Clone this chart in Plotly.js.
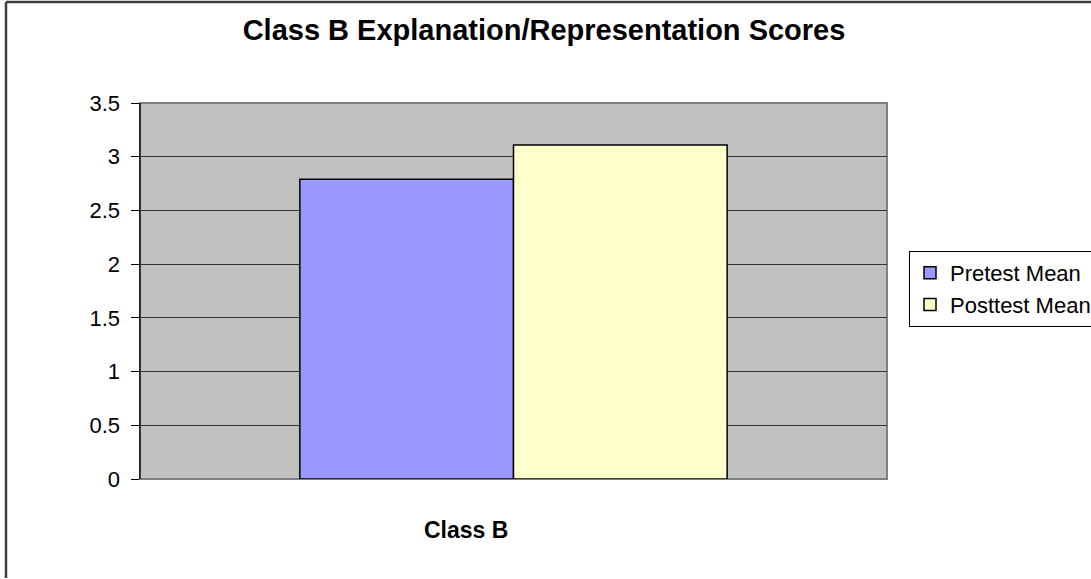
<!DOCTYPE html>
<html>
<head>
<meta charset="utf-8">
<script src="https://cdn.plot.ly/plotly-3.0.1.min.js"></script>
<style>html,body{margin:0;padding:0;background:#fff;overflow:hidden;}#chart{width:1091px;height:579px;overflow:hidden;}</style>
</head>
<body>
<div id="chart"></div>
<script>
var categories = ["Class B"];
var seriesNames = ["Pretest Mean", "Posttest Mean"];
var pretest = [2.79];
var posttest = [3.11];
var yTicks = [0, 0.5, 1, 1.5, 2, 2.5, 3, 3.5];
var yTickLabels = ["0", "0.5", "1", "1.5", "2", "2.5", "3", "3.5"];
var titleText = "Class B Explanation/Representation Scores";

var font = "Arial, 'Liberation Sans', Helvetica, sans-serif";
var W = 1091, H = 579, L = 140, R = 204, T = 103, B = 100;
var pw = W - L - R, ph = H - T - B;
function px(x) { return (x - L) / pw; }
function py(y) { return (H - B - y) / ph; }

var traces = [
  {type: "bar", name: seriesNames[0], x: categories, y: pretest,
   marker: {color: "#9999ff", line: {color: "#000000", width: 1.5}}},
  {type: "bar", name: seriesNames[1], x: categories, y: posttest,
   marker: {color: "#ffffcc", line: {color: "#000000", width: 1.5}}}
];

var layout = {
  width: W, height: H,
  margin: {l: L, r: R, t: T, b: B, pad: 0, autoexpand: false},
  paper_bgcolor: "#ffffff",
  plot_bgcolor: "#c0c0c0",
  barmode: "group",
  bargap: 0.428,
  bargroupgap: 0,
  showlegend: true,
  title: {text: "<b>" + titleText + "</b>", xref: "paper", x: px(544), xanchor: "center", y: 1 - 30 / H, yanchor: "middle",
          font: {family: font, size: 29, color: "#000"}},
  xaxis: {showticklabels: false, ticks: "", showgrid: false, zeroline: false, showline: false, fixedrange: true},
  yaxis: {range: [0, 3.5], tickvals: yTicks, ticktext: yTickLabels, ticks: "outside", ticklen: 8,
          tickcolor: "#000", tickwidth: 1, ticklabelstandoff: 6,
          showgrid: true, gridcolor: "#333333", gridwidth: 1, zeroline: false,
          showline: true, linecolor: "#222", linewidth: 1.5,
          tickfont: {family: font, size: 22, color: "#000"}},
  legend: {xref: "container", yref: "container", x: 909 / W, xanchor: "left", y: (H - 251) / H, yanchor: "top",
           bgcolor: "#ffffff", bordercolor: "#000000", borderwidth: 1,
           font: {family: font, size: 22, color: "#000"},
           tracegroupgap: 9, itemwidth: 30},
  annotations: [
    {text: "<b>" + categories[0] + "</b>", xref: "paper", yref: "paper",
     x: px(466), y: py(530), xanchor: "center", yanchor: "middle", showarrow: false,
     font: {family: font, size: 23, color: "#000"}}
  ],
  shapes: [
    {type: "rect", xref: "paper", yref: "paper", x0: 0, x1: 1, y0: 0, y1: 1,
     line: {color: "#808080", width: 2}, fillcolor: "rgba(0,0,0,0)", layer: "below"},
    {type: "line", xref: "paper", yref: "paper", x0: 0, x1: 0, y0: 0, y1: 1,
     line: {color: "#222", width: 1.5}},
    {type: "line", xref: "paper", yref: "paper", x0: px(6), x1: px(6), y0: py(2), y1: py(578),
     line: {color: "#404040", width: 2.5}},
    {type: "line", xref: "paper", yref: "paper", x0: px(6), x1: px(1091), y0: py(2), y1: py(2),
     line: {color: "#404040", width: 2.5}}
  ]
};

Plotly.newPlot("chart", traces, layout, {displayModeBar: false, staticPlot: true});
</script>
</body>
</html>
